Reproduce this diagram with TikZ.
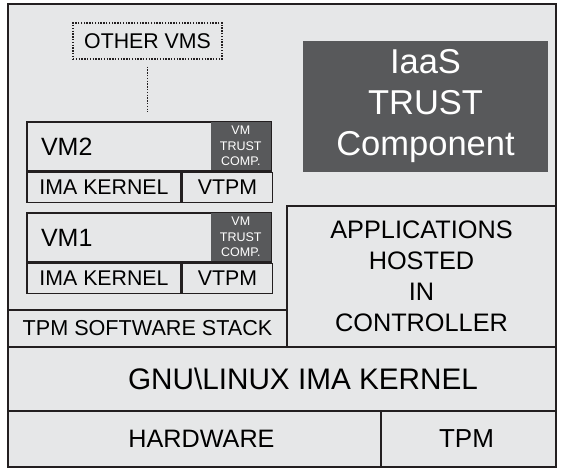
\documentclass[tikz,border=0pt]{standalone}
\usepackage{fontspec}
\setmainfont{Liberation Sans}
\definecolor{panel}{HTML}{E6E7E8}
\definecolor{edge}{HTML}{231F20}
\definecolor{trustfill}{HTML}{58595B}
\begin{document}
\begin{tikzpicture}[
			x=1pt,y=-1pt,
			layer/.style={draw=edge, line width=1.2pt, fill=panel, inner sep=0pt, align=center},
			vmbox/.style={layer, line width=1.5pt},
			trust/.style={fill=trustfill, text=white, inner sep=0pt, align=center},
			bigtext/.style={font=\fontsize{25.2}{30}\selectfont},
			midtext/.style={font=\fontsize{21.3}{26}\selectfont},
			tinytext/.style={font=\fontsize{12.5}{15.5}\selectfont}
		]
		\useasboundingbox (0,0) rectangle (561,468);
		% outer frame
		\node[layer, line width=1.6pt, minimum width=548pt, minimum height=463pt] (host) at (282,235.5) {};
		% base layers
		\node[layer, bigtext, minimum width=373pt, minimum height=56pt] (hw) at (194.5,439) {\hspace*{14pt}HARDWARE};
		\node[layer, bigtext, font=\fontsize{26}{30}\selectfont, minimum width=175pt, minimum height=56pt] (tpm) at (468.5,439) {TPM\hspace*{4pt}};
		\node[layer, font=\fontsize{29.7}{32}\selectfont, minimum width=548pt, minimum height=64pt] (kernel) at (282,379) {\hspace*{42pt}GNU\textbackslash LINUX IMA KERNEL};
		\node[layer, font=\fontsize{21.6}{26}\selectfont, minimum width=279pt, minimum height=37pt] (stack) at (147.5,328.5) {TPM SOFTWARE STACK};
		\node[layer, font=\fontsize{25.3}{31}\selectfont, minimum width=269pt, minimum height=141pt] (apps) at (421.5,276.5)
			{APPLICATIONS\\HOSTED\\IN\\CONTROLLER};
		\node[trust, font=\fontsize{34.5}{41}\selectfont, minimum width=245pt, minimum height=131pt] (iaas) at (425.5,106.5)
			{IaaS\\TRUST\\Component};
		% virtual machines
		\node[vmbox, font=\fontsize{25}{28}\selectfont, align=left, text width=216pt, inner xsep=14pt, minimum height=49pt] (vm2) at (149,146.5) {VM2};
		\node[trust, tinytext, minimum width=60pt, minimum height=48pt, anchor=north east] (vm2trust) at ([xshift=-0.75pt,yshift=-0.75pt]vm2.north east) {VM\\TRUST\\COMP.};
		\node[vmbox, midtext, minimum width=154pt, minimum height=30pt, anchor=north west] (vm2ima) at (vm2.south west) {IMA KERNEL};
		\node[vmbox, midtext, minimum width=90pt, minimum height=30pt, anchor=north west] (vm2vtpm) at (vm2ima.north east) {VTPM};
		\node[vmbox, font=\fontsize{25}{28}\selectfont, align=left, text width=216pt, inner xsep=14pt, minimum height=49pt] (vm1) at (149,237.5) {VM1};
		\node[trust, tinytext, minimum width=60pt, minimum height=48pt, anchor=north east] (vm1trust) at ([xshift=-0.75pt,yshift=-0.75pt]vm1.north east) {VM\\TRUST\\COMP.};
		\node[vmbox, midtext, minimum width=154pt, minimum height=30pt, anchor=north west] (vm1ima) at (vm1.south west) {IMA KERNEL};
		\node[vmbox, midtext, minimum width=90pt, minimum height=30pt, anchor=north west] (vm1vtpm) at (vm1ima.north east) {VTPM};
		% other vms
		\node[draw=edge, line width=1.3pt, dash pattern=on 1.4pt off 1.4pt, inner sep=0pt, midtext, minimum width=149pt, minimum height=36pt] (others) at (147.5,41) {OTHER VMS};
		\draw[edge, line width=1.3pt, dash pattern=on 1.4pt off 1.4pt, shorten <=7pt, shorten >=9pt] (others.south) -- (others.south |- vm2.north);
	\end{tikzpicture}
\end{document}
